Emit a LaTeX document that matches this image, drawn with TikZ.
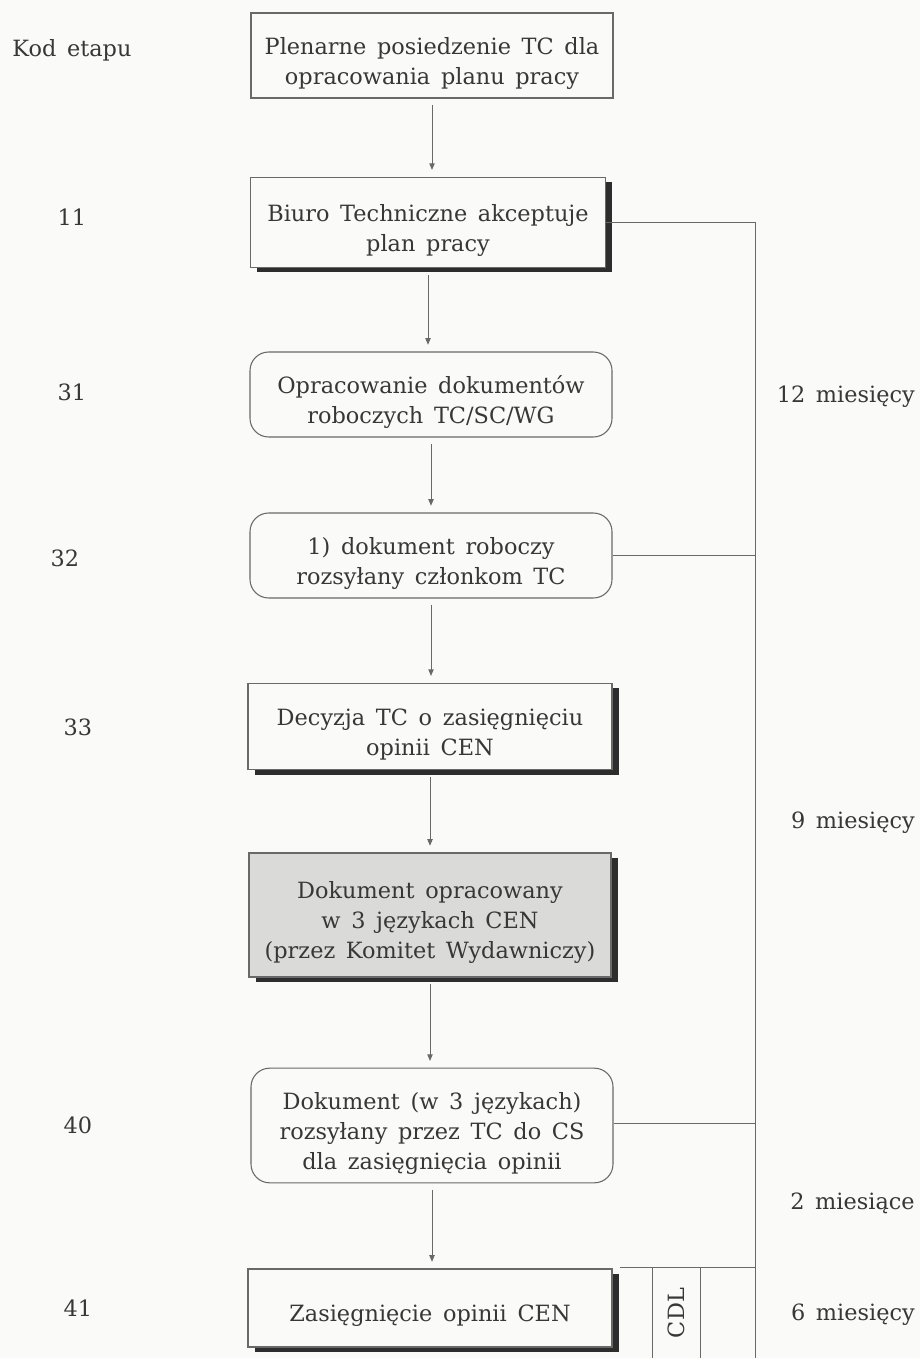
\documentclass[tikz,border=0pt]{standalone}
\usepackage{fontspec}
\setmainfont{DejaVu Serif}[WordSpace=1.5]
\usetikzlibrary{arrows.meta,positioning,shadows}
\definecolor{ink}{RGB}{55,55,55}
\definecolor{rule}{RGB}{105,105,105}
\definecolor{shd}{RGB}{45,45,45}
\definecolor{paper}{RGB}{250,250,248}
\definecolor{gfill}{RGB}{218,218,216}
\newcommand{\tp}{\rule{0pt}{24pt}}
\tikzset{
  box/.style ={draw=rule,line width=0.8pt,fill=paper,align=center,text=ink,
               font=\fontsize{16.8}{22.5}\selectfont,minimum width=271.5pt,inner sep=0pt},
  sbox/.style={box,drop shadow={shadow xshift=5pt,shadow yshift=-3.5pt,
               fill=shd,opacity=1}},
  rbox/.style={box,rounded corners=14pt},
  gbox/.style={sbox,fill=gfill},
  ar/.style  ={draw=rule,line width=0.7pt,-{Triangle[length=5pt,width=4pt]},
               shorten >=5pt,shorten <=5pt},
  ln/.style  ={draw=rule,line width=0.7pt},
  lab/.style ={text=ink,font=\fontsize{16.8}{18}\selectfont,inner sep=0pt},
}

\begin{document}
\begin{tikzpicture}[x=0.75pt,y=-0.75pt]
\fill[paper] (0,0) rectangle (920,1358);
\useasboundingbox (0,0) rectangle (920,1358);
% stages
\node[box,minimum height=63.75pt] (plen) at (432,55.5) {\tp Plenarne posiedzenie TC dla\\opracowania planu pracy};
\node[sbox,minimum height=68pt,minimum width=266pt] (biuro) at (428,222.5) {\tp Biuro Techniczne akceptuje\\plan pracy};
\node[rbox,minimum height=63.75pt] (opr) at (431,394.5) {\tp Opracowanie dokumentów\\roboczych TC/SC/WG};
\node[rbox,minimum height=63.75pt] (rob) at (431,555.5) {\tp 1) dokument roboczy\\rozsyłany członkom TC};
\node[sbox,minimum height=65pt,minimum width=273pt] (dec) at (430,726.5) {\tp Decyzja TC o zasięgnięciu\\opinii CEN};
\node[gbox,minimum height=93pt] (dok) at (430,915) {\tp Dokument opracowany\\w 3 językach CEN\\(przez Komitet Wydawniczy)};
\node[rbox,minimum height=86pt] (ros) at (432,1125.5) {\tp Dokument (w 3 językach)\\rozsyłany przez TC do CS\\dla zasięgnięcia opinii};
\node[sbox,minimum height=58.5pt,minimum width=273pt] (zas) at (430,1308) {\tp Zasięgnięcie opinii CEN};
\foreach \a/\b in {plen/biuro,biuro/opr,opr/rob,rob/dec,dec/dok,dok/ros,ros/zas}
  \draw[ar] (\a.south) -- (\a.south |- \b.north);
% time rail
\coordinate (rtop) at (755,222.5);
\coordinate (rbot) at (755,1358);
\coordinate (r40) at (755,1123);
\coordinate (cdl) at (620,1267);
\coordinate (c1) at (652,1267);
\coordinate (c2) at (700,1267);
\draw[ln] (biuro.east) -- (rtop) -- (rbot);
\draw[ln] (rob.east) -- (rob.east -| rtop);
\draw[ln] (ros.east |- r40) -- (r40);
\draw[ln] (cdl) -- (cdl -| rtop);
\draw[ln] (c1) -- (c1 |- rbot);
\draw[ln] (c2) -- (c2 |- rbot);
\node[lab,rotate=90] (cdlt) at (676,1313) {CDL};
% codes
\node[lab] (kod) at (72,50) {Kod etapu};
\node[lab] (k11) at (72,217) {11};
\node[lab] (k31) at (72,392) {31};
\node[lab] (k32) at (65,558) {32};
\node[lab] (k33) at (78,727) {33};
\node[lab] (k40) at (78,1125) {40};
\node[lab] (k41) at (78,1308) {41};
% durations
\node[lab,anchor=east] (m12) at (915,397) {12 miesięcy};
\node[lab,anchor=east] (m9) at (915,823) {9 miesięcy};
\node[lab,anchor=east] (m2) at (915,1203) {2 miesiące};
\node[lab,anchor=east] (m6) at (915,1315) {6 miesięcy};
\end{tikzpicture}
\end{document}
